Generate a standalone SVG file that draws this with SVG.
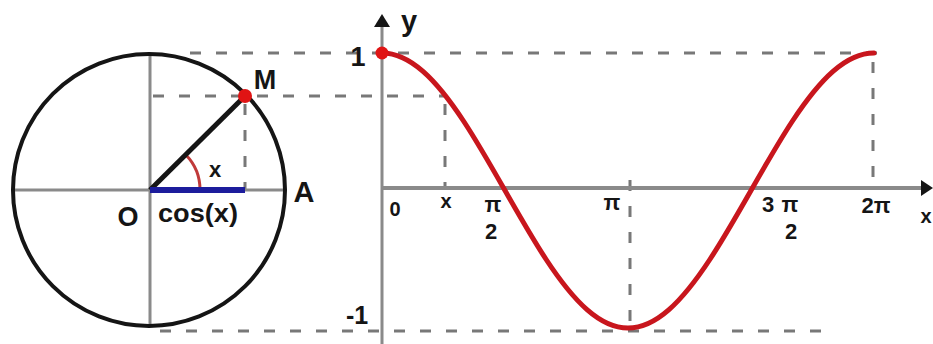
<svg xmlns="http://www.w3.org/2000/svg" width="933" height="344" viewBox="0 0 933 344">
<style>
.axis{stroke:#8a8a8a;stroke-width:3;fill:none}
.dash{stroke:#787878;stroke-width:3;stroke-dasharray:11 15;fill:none}
.t{font-family:"Liberation Sans",Arial,sans-serif;font-weight:bold;fill:#151515}
</style>
<rect width="933" height="344" fill="#ffffff"/>
<g id="guides">
<line class="dash" x1="190" y1="53" x2="888" y2="53"/>
<line class="dash" x1="153" y1="96" x2="446" y2="96"/>
<line class="dash" x1="160" y1="331" x2="823" y2="331"/>
<line class="dash" x1="245" y1="104" x2="245" y2="190"/>
<line class="dash" x1="445" y1="104" x2="445" y2="188"/>
<line class="dash" x1="873" y1="62" x2="873" y2="188"/>
<line class="dash" x1="630" y1="180" x2="630" y2="328"/>
</g>
<g id="circle">
<line class="axis" x1="13" y1="190" x2="286" y2="190"/>
<line class="axis" x1="150" y1="53" x2="150" y2="327"/>
<circle cx="149" cy="190" r="136" fill="none" stroke="#151515" stroke-width="4"/>
<path d="M200 190 A50 50 0 0 0 186 155" fill="none" stroke="#c03a3a" stroke-width="3"/>
<line x1="150" y1="190" x2="245" y2="96" stroke="#151515" stroke-width="5"/>
<line x1="150" y1="190" x2="245" y2="190" stroke="#1c1c9c" stroke-width="6"/>
<circle cx="245" cy="96" r="7" fill="#e01414"/>
<text class="t" x="265" y="89" font-size="27" text-anchor="middle">M</text>
<text class="t" x="215" y="177" font-size="22" text-anchor="middle">x</text>
<text class="t" x="304" y="202" font-size="29" text-anchor="middle">A</text>
<text class="t" x="128" y="226" font-size="27" text-anchor="middle">O</text>
<text class="t" x="158" y="222" font-size="25" textLength="80" lengthAdjust="spacingAndGlyphs">cos(x)</text>
</g>
<g id="graph">
<line class="axis" x1="382" y1="24" x2="382" y2="344"/>
<line x1="382" y1="188" x2="924" y2="188" stroke="#8a8a8a" stroke-width="4"/>
<polygon points="382,14 374,27 390,27" fill="#151515"/>
<polygon points="933,188 921,180 921,196" fill="#151515"/>
<path d="M382,53 C395.67,53 409.33,59.4 423,71.4 C436.67,83.4 450.33,100.97 464,121.75 C477.67,142.53 491.33,166.5 505,190.5 C518.67,214.5 532.33,238.47 546,259.25 C559.67,280.03 573.33,297.6 587,309.6 C600.67,321.6 614.33,328 628,328 C641.67,328 655.33,321.6 669,309.6 C682.67,297.6 696.33,280.03 710,259.25 C723.67,238.47 737.33,214.5 751,190.5 C764.67,166.5 778.33,142.53 792,121.75 C805.67,100.97 819.33,83.4 833,71.4 C846.67,59.4 860.33,53 874,53" fill="none" stroke="#c8161d" stroke-width="5" stroke-linecap="round"/>
<circle cx="382" cy="53" r="6.5" fill="#e01414"/>
<text class="t" x="409" y="31" font-size="29" text-anchor="middle">y</text>
<text class="t" x="358" y="66" font-size="27" text-anchor="middle">1</text>
<text class="t" x="357" y="324" font-size="25" text-anchor="middle">-1</text>
<text class="t" x="395" y="216" font-size="20" text-anchor="middle">0</text>
<text class="t" x="446" y="208" font-size="20" text-anchor="middle">x</text>
<text class="t" x="493" y="212" font-size="22" text-anchor="middle">π</text>
<text class="t" x="491" y="239" font-size="22" text-anchor="middle">2</text>
<text class="t" x="612" y="210" font-size="22" text-anchor="middle">π</text>
<text class="t" x="768" y="212" font-size="22" text-anchor="middle">3</text>
<text class="t" x="790" y="212" font-size="22" text-anchor="middle">π</text>
<text class="t" x="791" y="239" font-size="22" text-anchor="middle">2</text>
<text class="t" x="876" y="213" font-size="22" text-anchor="middle">2π</text>
<text class="t" x="926" y="223" font-size="20" text-anchor="middle">x</text>
</g>
</svg>
